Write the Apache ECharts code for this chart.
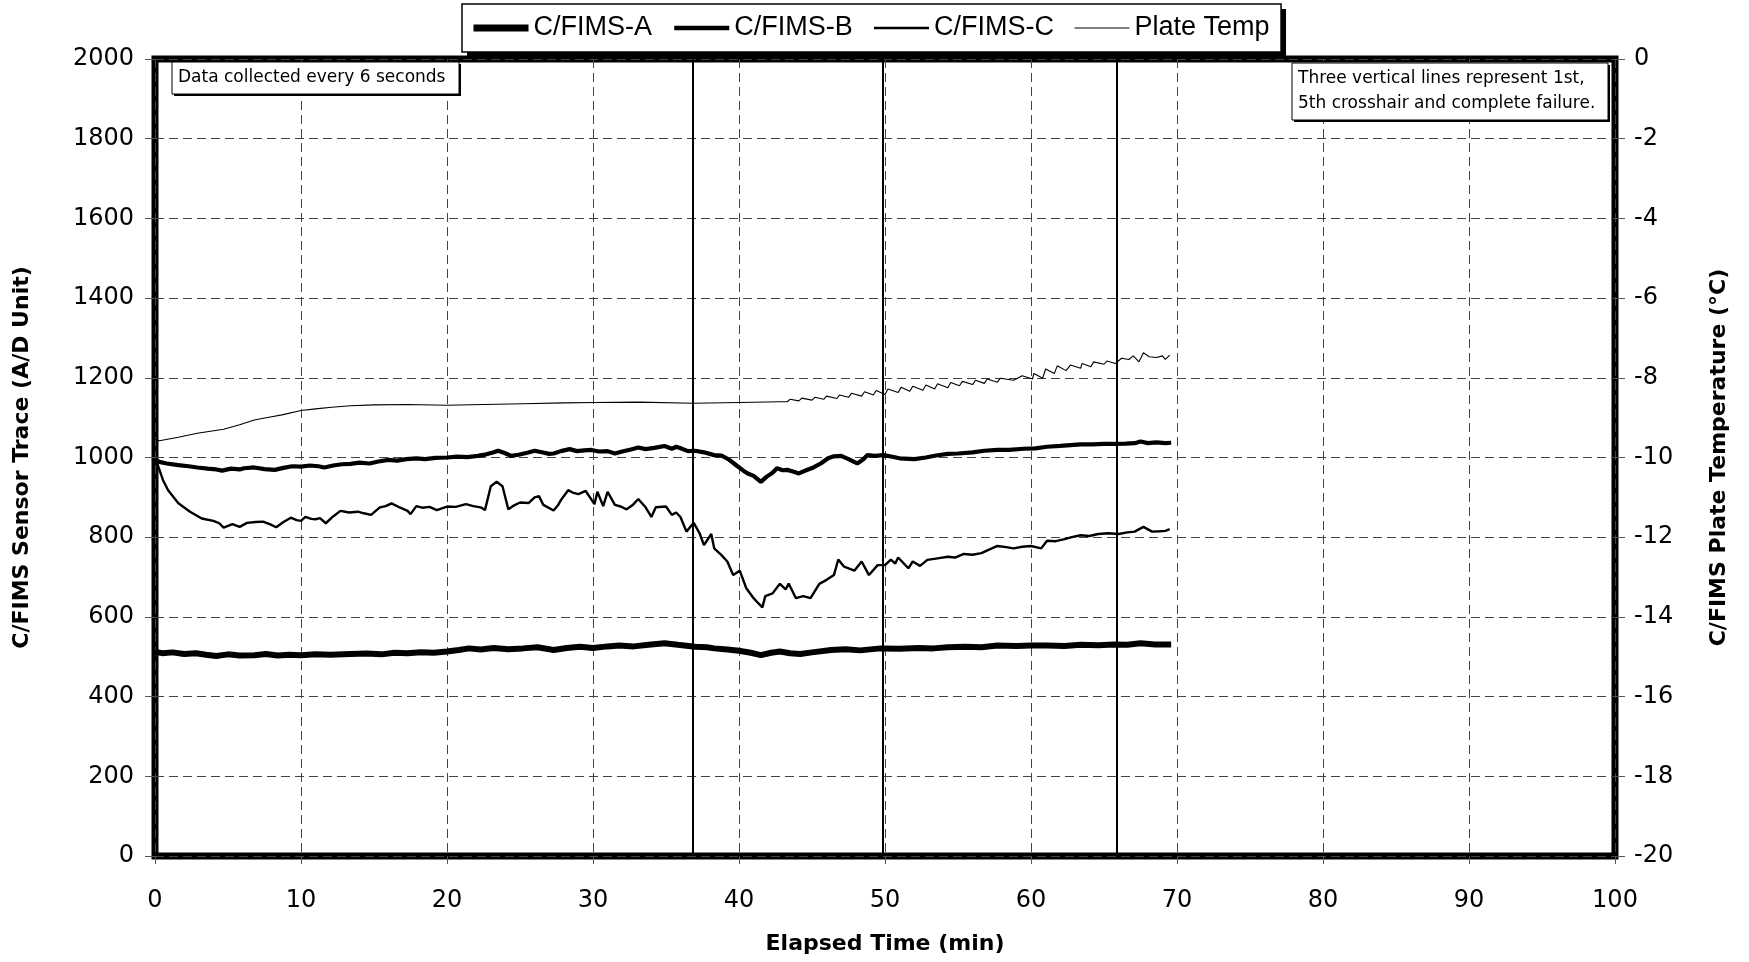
<!DOCTYPE html>
<html>
<head>
<meta charset="utf-8">
<title>C/FIMS Sensor Trace</title>
<script src="https://cdn.jsdelivr.net/npm/echarts@6/dist/echarts.min.js"></script>
<style>
  html, body { margin: 0; padding: 0; background: #fff; }
  #chart { width: 1749px; height: 962px; }
</style>
</head>
<body>
<div id="chart"></div>
<script>
// Elapsed time (min) / sensor reading (A/D units)
const sensorA = [
  [0,512],[0.5,509],[1.2,511],[2,507],[2.8,509],[3.5,505],[4.2,502],[5,506],[5.8,503],[6.8,504],
  [7.6,507],[8.4,503],[9.2,505],[10,504],[11,506],[12,505],[13.4,507],[14.5,508],[15.5,506],[16.4,510],
  [17.3,509],[18.2,511],[19.1,510],[20,513],[20.8,517],[21.5,521],[22.3,518],[23.2,522],[24.2,519],[25.2,521],
  [26.2,524],[27.3,517],[28.2,522],[29.1,525],[30,522],[31,526],[31.8,528],[32.8,526],[33.8,530],[34.9,534],
  [35.8,530],[37,525],[37.8,524],[38.3,521],[39.2,518],[40,515],[40.8,510],[41.5,504],[42.2,510],[42.8,513],
  [43.5,509],[44.2,507],[45,511],[46.3,517],[47.3,519],[48.3,516],[49.7,521],[51,520],[52.3,522],[53.3,521],
  [54.3,524],[55.5,525],[56.6,524],[57.7,528],[59,527],[60,528],[61.1,528],[62.3,527],[63.4,530],[64.6,529],
  [65.7,531],[66.6,530],[67.5,534],[68.5,531],[69.6,531]
];
const sensorB = [
  [0,995],[0.3,989],[0.8,985],[1.6,981],[2.3,978],[2.9,975],[3.6,972],[4.2,970],[4.6,967],[5.2,972],
  [5.8,970],[6.1,973],[6.8,975],[7.5,971],[8.2,969],[8.8,974],[9.4,978],[10,977],[10.6,980],[11.2,978],
  [11.6,975],[12.2,980],[12.8,983],[13.4,984],[14,987],[14.7,985],[15.3,990],[16,994],[16.6,992],[17.2,996],
  [17.9,998],[18.5,996],[19.2,999],[20,1000],[20.7,1002],[21.4,1001],[22.1,1004],[22.7,1008],[23.2,1013],[23.5,1017],
  [23.9,1012],[24.4,1004],[24.9,1007],[25.5,1012],[26,1017],[26.5,1013],[27,1009],[27.3,1010],[27.8,1016],[28.4,1021],
  [28.9,1016],[29.4,1018],[29.9,1019],[30.4,1015],[31,1016],[31.5,1010],[32,1015],[32.6,1020],[33.1,1025],[33.6,1021],
  [34.2,1024],[34.9,1029],[35.4,1022],[35.7,1027],[36,1023],[36.5,1016],[37,1017],[37.6,1013],[38.3,1006],[38.8,1005],
  [39.3,995],[39.9,978],[40.3,967],[40.6,960],[41,954],[41.5,939],[41.9,952],[42.3,962],[42.6,973],[43,968],
  [43.3,969],[43.7,965],[44.1,960],[44.6,968],[45.1,975],[45.6,985],[46.1,998],[46.5,1003],[47,1004],[47.5,996],
  [48.1,985],[48.5,995],[48.8,1006],[49.3,1004],[49.9,1006],[50.5,1002],[51,998],[52,996],[52.8,1000],[53.5,1005],
  [54.3,1009],[55,1010],[56,1013],[56.8,1017],[57.7,1019],[58.5,1019],[59.5,1022],[60.3,1023],[61.1,1027],[62,1029],
  [62.7,1031],[63.4,1033],[64.2,1033],[65,1034],[65.7,1034],[66.5,1035],[67.1,1036],[67.5,1040],[68,1036],[68.6,1038],
  [69.2,1036],[69.6,1037]
];
const sensorC = [
  [0,995],[0.15,985],[0.55,943],[0.9,918],[1.6,885],[2.4,864],[3.2,847],[4,841],[4.4,835],[4.7,824],
  [5.3,833],[5.8,826],[6.3,836],[6.9,838],[7.4,839],[7.9,832],[8.3,825],[8.8,838],[9.3,849],[9.7,843],
  [10,841],[10.3,851],[10.7,846],[11,845],[11.3,848],[11.7,835],[12.2,852],[12.7,866],[13.3,862],[13.9,864],
  [14.3,860],[14.8,856],[15.4,875],[15.8,878],[16.2,885],[16.8,874],[17.3,866],[17.5,858],[17.9,878],[18.3,874],
  [18.8,876],[19.3,868],[20,877],[20.6,876],[21.3,883],[21.8,878],[22.3,875],[22.6,868],[23,928],[23.4,939],
  [23.8,928],[24.2,870],[24.6,880],[25,887],[25.6,886],[26,900],[26.3,903],[26.6,881],[27.3,867],[27.6,880],
  [27.8,893],[28.3,918],[28.6,912],[29,908],[29.5,916],[30.1,883],[30.3,914],[30.7,878],[31,914],[31.5,881],
  [31.9,877],[32.3,870],[32.7,880],[33.1,896],[33.6,875],[34,851],[34.3,875],[35,877],[35.4,856],[35.7,862],
  [36,850],[36.4,814],[36.9,836],[37.3,810],[37.6,780],[38.1,808],[38.3,772],[38.8,755],[39.2,739],[39.6,705],
  [40.05,716],[40.5,672],[41,647],[41.3,635],[41.6,624],[41.8,652],[42.3,659],[42.8,683],[43.2,669],[43.4,684],
  [43.9,647],[44.4,652],[44.9,647],[45.5,683],[46,693],[46.5,705],[46.8,744],[47.2,726],[47.9,716],[48.4,739],
  [48.9,705],[49.5,730],[50,730],[50.4,744],[50.7,734],[50.9,749],[51.6,722],[51.9,739],[52.4,728],[52.9,743],
  [53.6,747],[54.3,751],[54.8,749],[55.4,758],[56,756],[56.6,760],[57.2,770],[57.7,778],[58.3,775],[58.8,772],
  [59.4,776],[60,778],[60.7,772],[61.1,791],[61.7,790],[62.3,795],[62.8,800],[63.4,805],[64,803],[64.6,808],
  [65.3,810],[66,808],[66.6,812],[67.1,814],[67.7,826],[68.3,814],[68.8,815],[69.2,816],[69.5,820]
];
// Elapsed time (min) / plate temperature (°C)
const plateTemp = [
  [0,-9.55],[0.3,-9.58],[1.6,-9.49],[2.9,-9.39],[4.7,-9.29],[5.8,-9.18],[6.8,-9.06],[7.8,-8.99],[8.7,-8.93],[10,-8.82],
  [11,-8.78],[12.1,-8.74],[13.4,-8.70],[15,-8.68],[17.3,-8.67],[20,-8.69],[22.5,-8.67],[25.2,-8.65],[28,-8.63],[30.1,-8.62],
  [33.1,-8.61],[36.9,-8.64],[40,-8.62],[42.8,-8.60],
  [43.3,-8.60],[43.5,-8.54],[44.1,-8.58],[44.3,-8.51],[45.0,-8.56],[45.2,-8.49],[45.8,-8.54],[46.0,-8.46],[46.7,-8.52],[46.9,-8.43],
  [47.5,-8.49],[47.7,-8.39],[48.4,-8.46],[48.6,-8.35],[49.2,-8.43],[49.4,-8.32],[50.0,-8.42],[50.2,-8.28],[50.9,-8.37],[51.1,-8.24],
  [51.7,-8.34],[51.9,-8.21],[52.6,-8.31],[52.8,-8.18],[53.4,-8.28],[53.6,-8.15],[54.3,-8.25],[54.5,-8.12],[55.1,-8.20],[55.3,-8.09],
  [56.0,-8.17],[56.2,-8.06],[56.8,-8.14],[57.0,-8.03],[57.7,-8.11],[57.9,-8.01],[58.8,-8.06],[59.4,-7.95],[60.1,-8.03],[60.2,-7.89],
  [60.8,-8.01],[61.0,-7.78],[61.6,-7.89],[61.8,-7.70],[62.4,-7.82],[62.7,-7.68],[63.4,-7.76],[63.5,-7.64],[64.1,-7.72],[64.3,-7.60],
  [65.0,-7.66],[65.2,-7.58],[65.8,-7.64],[66.2,-7.51],[66.7,-7.54],[67.0,-7.45],[67.4,-7.60],[67.7,-7.37],[68.1,-7.47],[68.6,-7.49],
  [69.0,-7.45],[69.2,-7.54],[69.5,-7.43]
];
// 1st crosshair, 5th crosshair, complete failure (min)
const eventTimes = [36.85, 49.85, 65.85];

const seriesNames = ['C/FIMS-A', 'C/FIMS-B', 'C/FIMS-C', 'Plate Temp'];
const seriesWidths = [6, 4.2, 2.4, 1.1];
const legendWidths = [7, 4.5, 2.5, 1];
const timeRange = [0, 100, 10];
const traceRange = [0, 2000, 200];
const tempRange = [-20, 0, 2];

const chart = echarts.init(document.getElementById('chart'), null, { renderer: 'canvas' });

const tickFont = { fontFamily: 'DejaVu Sans', fontSize: 24, color: '#000' };
const titleFont = { fontFamily: 'DejaVu Sans', fontWeight: 'bold', fontSize: 22, color: '#000' };
const gridDash = { color: '#444', width: 1, type: [9, 5] };

// Legend frame: sized from the measured legend text so the drop shadow can sit behind it
const legendFont = 27, legendLineH = 30, legendIconW = 55, legendGap = 20;
const legendPad = [9, 19, 9, 8];
const legendLeft = 462, legendTop = 4;
const measure = document.createElement('canvas').getContext('2d');
measure.font = legendFont + 'px "Liberation Sans"';
const legendBoxW = seriesNames.reduce((s, n) => s + legendIconW + 5 + measure.measureText(n).width, 0)
  + legendGap * (seriesNames.length - 1) + legendPad[1] + legendPad[3];
const legendBoxH = legendLineH + legendPad[0] + legendPad[2];

function noteBox(x, y, w, h, text) {
  return {
    type: 'group',
    x: x, y: y, z: 10,
    children: [
      { type: 'rect', z: 10, shape: { x: 2, y: 2, width: w, height: h }, style: { fill: '#000' } },
      { type: 'rect', z: 11, shape: { x: 0, y: 0, width: w, height: h },
        style: { fill: '#fff', stroke: '#000', lineWidth: 1 } },
      { type: 'text', z: 12, x: 6, y: h / 2,
        style: { text: text, fontFamily: 'DejaVu Sans', fontSize: 17, lineHeight: 25,
                 fill: '#000', verticalAlign: 'middle', align: 'left' } }
    ]
  };
}

const option = {
  animation: false,
  backgroundColor: '#fff',
  grid: {
    left: 155, right: 134, top: 59, bottom: 106,
    show: true, borderColor: '#000', borderWidth: 7, backgroundColor: 'transparent'
  },
  legend: {
    data: seriesNames.map((n, i) => ({ name: n, lineStyle: { width: legendWidths[i], color: '#000' } })),
    top: legendTop + legendPad[0], left: legendLeft + legendPad[3],
    padding: 0,
    itemWidth: legendIconW, itemHeight: 14, itemGap: legendGap,
    z: 20,
    itemStyle: { opacity: 0 },
    textStyle: { fontFamily: 'Liberation Sans', fontSize: legendFont, lineHeight: legendLineH, color: '#000' }
  },
  xAxis: {
    type: 'value',
    min: timeRange[0], max: timeRange[1], interval: timeRange[2],
    name: 'Elapsed Time (min)', nameLocation: 'middle', nameGap: 77,
    nameTextStyle: titleFont,
    axisLine: { show: false },
    axisTick: { show: true, length: 8, inside: false, lineStyle: { color: '#555', width: 1 } },
    axisLabel: Object.assign({ margin: 33, formatter: v => String(v) }, tickFont),
    splitLine: { show: true, lineStyle: gridDash }
  },
  yAxis: [
    {
      type: 'value',
      min: traceRange[0], max: traceRange[1], interval: traceRange[2],
      name: 'C/FIMS Sensor Trace (A/D Unit)', nameLocation: 'middle', nameGap: 122, nameRotate: 90,
      nameTextStyle: titleFont,
      axisLine: { show: false },
      axisTick: { show: true, length: 10, lineStyle: { color: '#555', width: 1 } },
      axisLabel: Object.assign({ margin: 21, formatter: v => String(v) }, tickFont),
      splitLine: { show: true, lineStyle: gridDash }
    },
    {
      type: 'value', position: 'right',
      min: tempRange[0], max: tempRange[1], interval: tempRange[2],
      name: 'C/FIMS Plate Temperature (°C)', nameLocation: 'middle', nameGap: 93, nameRotate: 90,
      nameTextStyle: titleFont,
      axisLine: { show: false },
      axisTick: { show: true, length: 10, lineStyle: { color: '#555', width: 1 } },
      axisLabel: Object.assign({ margin: 19, formatter: v => String(v) }, tickFont),
      splitLine: { show: false }
    }
  ],
  series: [
    {
      name: seriesNames[0], type: 'line', data: sensorA, yAxisIndex: 0,
      symbol: 'none', lineStyle: { color: '#000', width: seriesWidths[0] }, itemStyle: { color: '#000' },
      z: 4,
      markLine: {
        silent: true, symbol: ['none', 'none'], label: { show: false },
        lineStyle: { color: '#000', width: 2, type: 'solid' },
        data: eventTimes.map(t => ({ xAxis: t }))
      }
    },
    {
      name: seriesNames[1], type: 'line', data: sensorB, yAxisIndex: 0,
      symbol: 'none', lineStyle: { color: '#000', width: seriesWidths[1] }, itemStyle: { color: '#000' }, z: 4
    },
    {
      name: seriesNames[2], type: 'line', data: sensorC, yAxisIndex: 0,
      symbol: 'none', lineStyle: { color: '#000', width: seriesWidths[2] }, itemStyle: { color: '#000' }, z: 4
    },
    {
      name: seriesNames[3], type: 'line', data: plateTemp, yAxisIndex: 1,
      symbol: 'none', lineStyle: { color: '#000', width: seriesWidths[3] }, itemStyle: { color: '#000' }, z: 4
    }
  ],
  graphic: [
    { type: 'rect', z: 1, shape: { x: legendLeft + 5, y: legendTop + 5, width: legendBoxW, height: legendBoxH },
      style: { fill: '#000' } },
    { type: 'rect', z: 2, shape: { x: legendLeft, y: legendTop, width: legendBoxW, height: legendBoxH },
      style: { fill: '#fff', stroke: '#000', lineWidth: 1.5 } },
    noteBox(172, 62, 287, 32, 'Data collected every 6 seconds'),
    noteBox(1292, 63, 316, 57, 'Three vertical lines represent 1st,\n5th crosshair and complete failure.')
  ]
};

chart.setOption(option);
</script>
</body>
</html>
